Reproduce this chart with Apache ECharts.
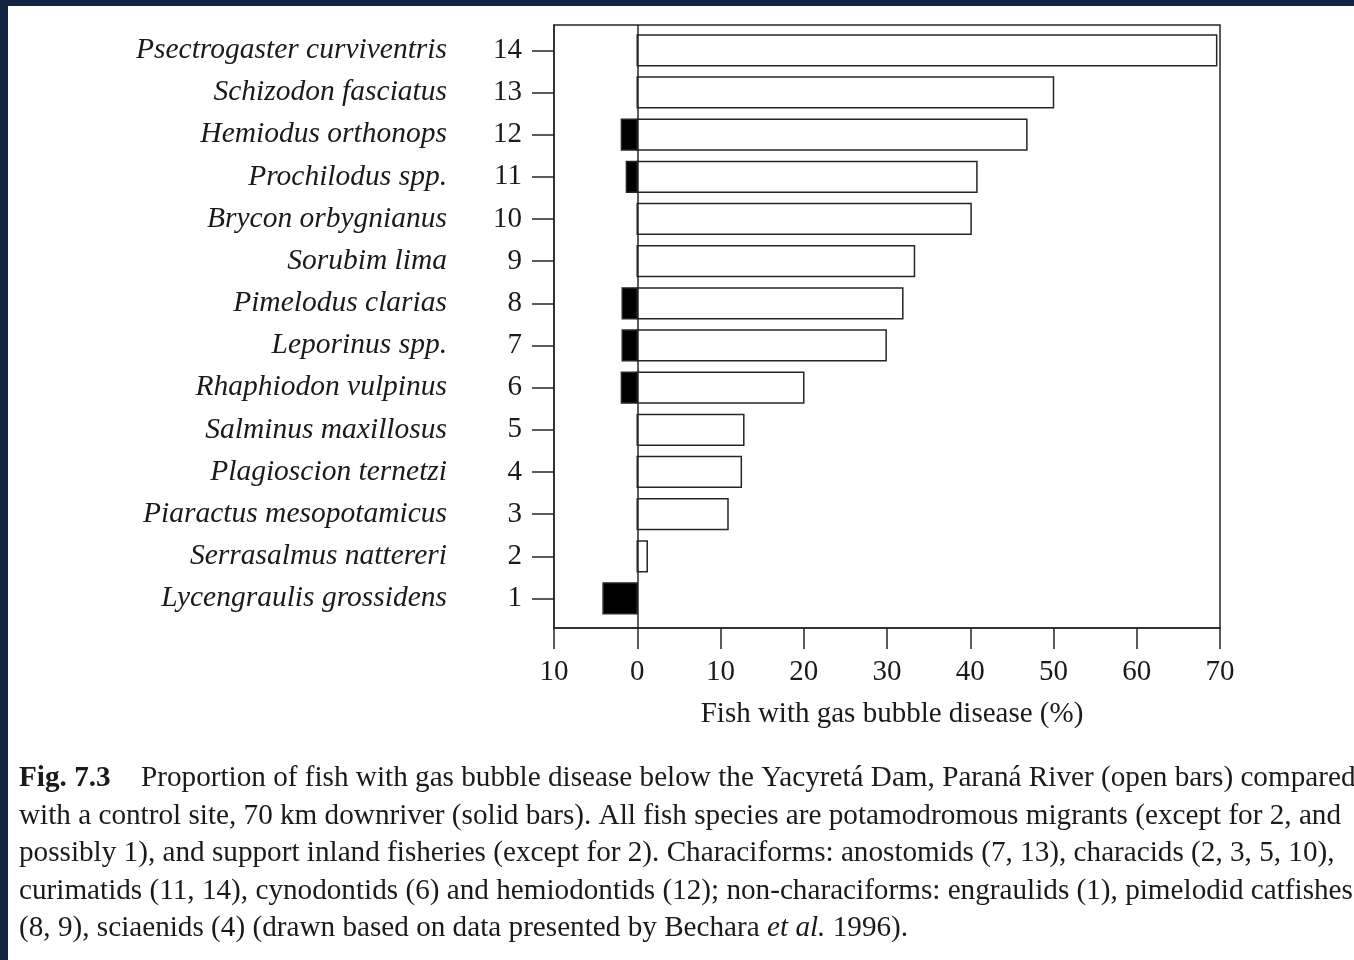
<!DOCTYPE html>
<html>
<head>
<meta charset="utf-8">
<title>Fish with gas bubble disease</title>
<script src="https://cdn.jsdelivr.net/npm/echarts@6/dist/echarts.min.js"></script>
<style>
  html, body { margin: 0; padding: 0; background: #ffffff; }
  #chart { width: 1354px; height: 960px; }
</style>
</head>
<body>
<div id="chart"></div>
<script>
// Species, numbered 1 (bottom) to 14 (top)
const speciesNumbers = [1, 2, 3, 4, 5, 6, 7, 8, 9, 10, 11, 12, 13, 14];
const speciesNames = [
  'Lycengraulis grossidens', 'Serrasalmus nattereri', 'Piaractus mesopotamicus',
  'Plagioscion ternetzi', 'Salminus maxillosus', 'Rhaphiodon vulpinus',
  'Leporinus spp.', 'Pimelodus clarias', 'Sorubim lima', 'Brycon orbygnianus',
  'Prochilodus spp.', 'Hemiodus orthonops', 'Schizodon fasciatus',
  'Psectrogaster curviventris'
];
// % of fish with gas bubble disease below the dam (open bars)
const damValues = [0, 1.2, 10.9, 12.5, 12.8, 20.0, 29.9, 31.9, 33.3, 40.1, 40.8, 46.8, 50.0, 69.6];
// % at the control site 70 km downriver (solid bars, drawn to the left of zero)
const controlValues = [4.1, 0, 0, 0, 0, 1.9, 1.8, 1.8, 0, 0, 1.3, 1.9, 0, 0];
// x-axis ticks (left side shows control percentages as positive numbers)
const xTickValues = [-10, 0, 10, 20, 30, 40, 50, 60, 70];

const captionLines = [
  'Proportion of fish with gas bubble disease below the Yacyretá Dam, Paraná River (open bars) compared',
  'with a control site, 70 km downriver (solid bars). All fish species are potamodromous migrants (except for 2, and',
  'possibly 1), and support inland fisheries (except for 2). Characiforms: anostomids (7, 13), characids (2, 3, 5, 10),',
  'curimatids (11, 14), cynodontids (6) and hemiodontids (12); non-characiforms: engraulids (1), pimelodid catfishes',
  '(8, 9), sciaenids (4) (drawn based on data presented by Bechara '
];

const SERIF = "'Liberation Serif', 'Times New Roman', serif";
const INK = '#1a1a1a';
const LINE = '#262626';
const BAR_THICKNESS = 0.73;   // in y-axis units
const CAPTION_FONT = '29.2px ' + SERIF;

const damData = speciesNumbers.filter((n, i) => damValues[i] > 0).map(n => [damValues[n - 1], n]);
const controlData = speciesNumbers.filter((n, i) => controlValues[i] > 0).map(n => [-controlValues[n - 1], n]);

function makeBar(fill) {
  return function (params, api) {
    const v = api.value(0), y = api.value(1);
    const p0 = api.coord([0, y]);
    const p1 = api.coord([v, y]);
    const h = api.size([0, BAR_THICKNESS])[1];
    return {
      type: 'rect',
      shape: { x: Math.min(p0[0], p1[0]), y: p0[1] - h / 2, width: Math.abs(p1[0] - p0[0]), height: h },
      style: { fill: fill, stroke: LINE, lineWidth: 1.5 }
    };
  };
}

const chart = echarts.init(document.getElementById('chart'), null, { renderer: 'canvas' });

const yRange = { min: 0.3, max: 14.6 };

const captionTop = 764;
const captionStep = 37.5;
const captionGraphics = [
  { type: 'text', left: 19, top: captionTop, style: { text: 'Fig. 7.3', font: 'bold 29.2px ' + SERIF, fill: INK } },
  { type: 'text', left: 141, top: captionTop, style: { text: captionLines[0], font: CAPTION_FONT, fill: INK } }
];
for (let i = 1; i < captionLines.length - 1; i++) {
  captionGraphics.push({ type: 'text', left: 19, top: captionTop + i * captionStep, style: { text: captionLines[i], font: CAPTION_FONT, fill: INK } });
}
// last caption line with italic "et al."
captionGraphics.push({
  type: 'text', left: 19, top: captionTop + 4 * captionStep,
  style: {
    text: '{n|' + captionLines[4] + '}{i|et al.}{n| 1996).}',
    rich: {
      n: { font: CAPTION_FONT, fill: INK },
      i: { font: 'italic 29.2px ' + SERIF, fill: INK }
    }
  }
});

chart.setOption({
  animation: false,
  backgroundColor: '#ffffff',
  grid: {
    left: 554, right: 134, top: 25, bottom: 332,
    show: true, borderColor: LINE, borderWidth: 1.5, backgroundColor: 'transparent'
  },
  xAxis: {
    type: 'value', min: -10, max: 70, interval: 10,
    splitLine: { show: false },
    axisLine: { show: true, onZero: false, lineStyle: { color: LINE, width: 1.5 } },
    axisTick: { show: true, length: 21, inside: false, lineStyle: { color: LINE, width: 1.5 } },
    axisLabel: {
      margin: 30, color: INK, fontFamily: SERIF, fontSize: 29,
      formatter: v => String(Math.abs(v))
    },
    name: 'Fish with gas bubble disease (%)',
    nameLocation: 'middle', nameGap: 72,
    nameTextStyle: { color: INK, fontFamily: SERIF, fontSize: 29, padding: [0, 0, 0, 10] }
  },
  yAxis: [
    {
      type: 'value', min: yRange.min, max: yRange.max, position: 'left',
      splitLine: { show: false },
      axisLine: { show: true, onZero: false, lineStyle: { color: LINE, width: 1.5 } },
      axisTick: { show: true, length: 22, customValues: speciesNumbers, lineStyle: { color: LINE, width: 1.5 } },
      axisLabel: { customValues: speciesNumbers, margin: 32, color: INK, fontFamily: SERIF, fontSize: 29 }
    },
    {
      type: 'value', min: yRange.min, max: yRange.max, position: 'left',
      splitLine: { show: false },
      axisLine: { show: false, onZero: false },
      axisTick: { show: false },
      axisLabel: {
        customValues: speciesNumbers, margin: 107, color: INK, fontFamily: SERIF,
        fontSize: 29.5, fontStyle: 'italic',
        formatter: v => speciesNames[Math.round(v) - 1]
      }
    }
  ],
  series: [
    {
      name: 'Below dam', type: 'custom', renderItem: makeBar('#ffffff'),
      encode: { x: 0, y: 1 }, data: damData, z: 2,
      markLine: {
        silent: true, symbol: 'none', label: { show: false },
        lineStyle: { color: LINE, width: 1.5, type: 'solid' },
        data: [{ xAxis: 0 }]
      }
    },
    {
      name: 'Control site', type: 'custom', renderItem: makeBar('#000000'),
      encode: { x: 0, y: 1 }, data: controlData, z: 3
    }
  ],
  graphic: [
    { type: 'rect', left: 0, top: 0, shape: { width: 1354, height: 6 }, style: { fill: '#12243f' } },
    { type: 'rect', left: 0, top: 0, shape: { width: 8, height: 960 }, style: { fill: '#12243f' } }
  ].concat(captionGraphics)
});
</script>
</body>
</html>
